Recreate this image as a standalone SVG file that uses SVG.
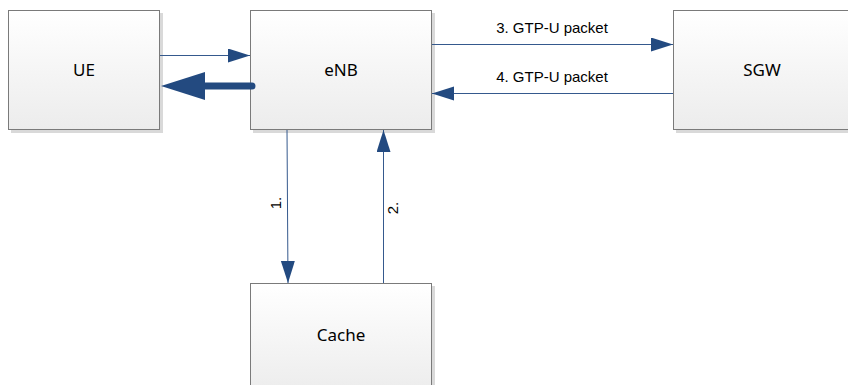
<svg xmlns="http://www.w3.org/2000/svg" width="848" height="385" viewBox="0 0 848 385">
<defs>
<linearGradient id="g" x1="0" y1="0" x2="0" y2="1">
<stop offset="0" stop-color="#ffffff"/>
<stop offset="1" stop-color="#ececec"/>
</linearGradient>
<marker id="ah" markerUnits="userSpaceOnUse" markerWidth="24" markerHeight="16" refX="22" refY="7" orient="auto">
<polygon points="0,0 22,7 0,14" fill="#234a80"/>
</marker>
<marker id="ahb" markerUnits="userSpaceOnUse" markerWidth="46" markerHeight="30" refX="44" refY="14" orient="auto">
<polygon points="0,0 44,14 0,28" fill="#234a80"/>
</marker>
<style>
.shadow{fill:#d9d9d9}
.box{fill:url(#g);stroke:#7a7a7a;stroke-width:1}
.lbl{font-family:"Noto Sans","Open Sans",sans-serif;font-size:17px;fill:#000;text-anchor:middle}
.el{font-family:"Liberation Sans",Arial,sans-serif;font-size:15px;fill:#000;text-anchor:middle}
.ln{stroke:#35598d;stroke-width:1;fill:none;marker-end:url(#ah)}
</style>
</defs>
<rect width="848" height="385" fill="#ffffff"/>
<g id="UE">
<rect class="shadow" x="11" y="13" width="152" height="120"/>
<rect class="box" x="8.5" y="10.5" width="151" height="119"/>
<text class="lbl" x="84" y="76">UE</text>
</g>
<g id="eNB">
<rect class="shadow" x="253" y="13" width="182" height="120"/>
<rect class="box" x="250.5" y="10.5" width="181" height="119"/>
<text class="lbl" x="341" y="76">eNB</text>
</g>
<g id="SGW">
<rect class="shadow" x="676" y="13" width="175" height="120"/>
<rect class="box" x="673.5" y="10.5" width="180" height="119"/>
<text class="lbl" x="762" y="76">SGW</text>
</g>
<g id="Cache">
<rect class="shadow" x="253" y="286" width="182" height="110"/>
<rect class="box" x="250.5" y="283.5" width="181" height="110"/>
<text class="lbl" x="341" y="341">Cache</text>
</g>
<g id="connectors">
<line class="ln" x1="160" y1="55.5" x2="250" y2="55.5"/>
<line x1="252" y1="86" x2="200" y2="86" stroke="#234a80" stroke-width="7" stroke-linecap="round"/>
<line x1="205" y1="86" x2="161" y2="86" stroke="#234a80" stroke-width="0" marker-end="url(#ahb)"/>
<line class="ln" x1="432" y1="44.5" x2="673" y2="44.5"/>
<line class="ln" x1="673" y1="93.5" x2="432" y2="93.5"/>
<line class="ln" x1="287" y1="130" x2="288" y2="283"/>
<line class="ln" x1="383.5" y1="283" x2="383.5" y2="130"/>
<text class="el" x="552" y="33">3. GTP-U packet</text>
<text class="el" x="552" y="82">4. GTP-U packet</text>
<text class="el" transform="translate(281,203) rotate(-90)">1.</text>
<text class="el" transform="translate(398,208) rotate(-90)">2.</text>
</g>
</svg>
